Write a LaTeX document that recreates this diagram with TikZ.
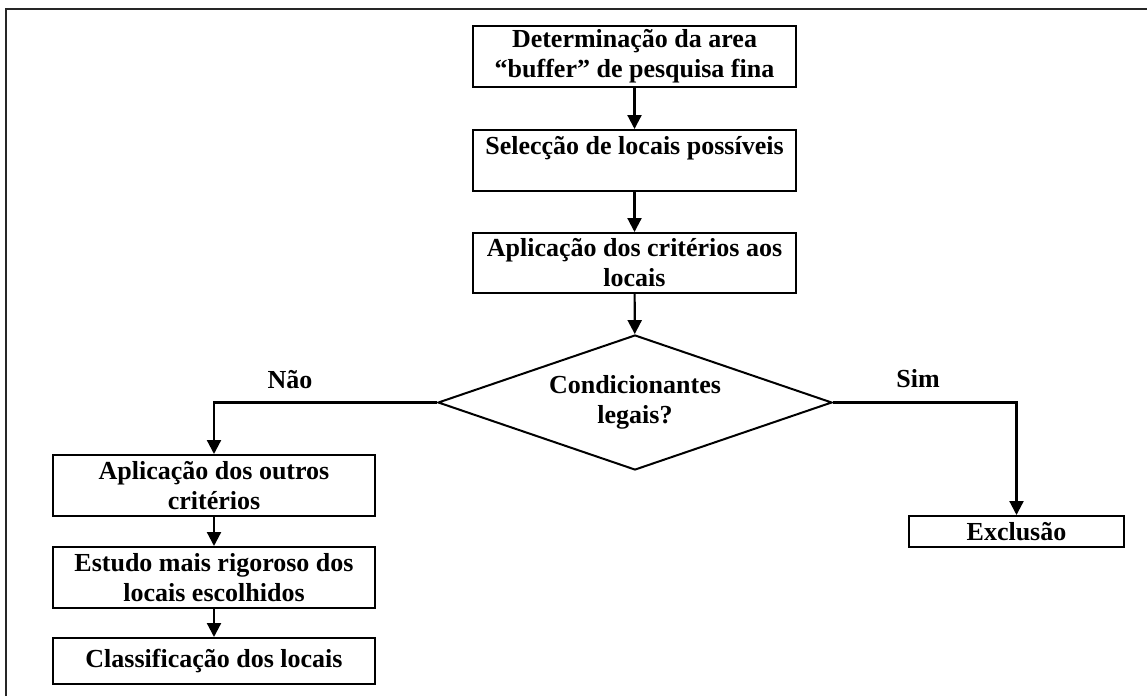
\documentclass[tikz,border=0pt]{standalone}
\usepackage{fontspec}
\setmainfont{Liberation Serif}
\usetikzlibrary{shapes.geometric,arrows.meta}
\begin{document}
\begin{tikzpicture}[x=1pt,y=-1pt,
  every node/.style={font=\fontsize{26}{30}\selectfont\bfseries},
  procbox/.style={draw,line width=2pt,inner sep=0pt,align=center,minimum width=#1},
  decision/.style={draw,diamond,aspect=2.92,line width=2pt,inner sep=0pt,align=center,minimum width=394pt,minimum height=135pt},
  flow/.style={line width=2.2pt,-{Triangle[length=14pt,width=14pt]}},
  lbl/.style={inner sep=0pt}]
\useasboundingbox (0,0) rectangle (1147,696);
% frame (top and left edges)
\coordinate (fA) at (6,696);
\coordinate (fB) at (6,9);
\coordinate (fC) at (1147,9);
\draw[line width=2.4pt,black!85] (fA) -- (fB) -- (fC);
% boxes
\node[procbox=323pt,minimum height=61pt] (b1) at (634.5,56.5) {Determinação da area\\“buffer” de pesquisa fina};
\node[procbox=323pt,minimum height=61pt] (b2) at (634.5,160.5) {Selecção de locais possíveis\\\mbox{}};
\node[procbox=323pt,minimum height=60pt] (b3) at (634.5,263) {Aplicação dos critérios aos\\locais};
\node[decision] (d) at (635,402.5) {Condicionantes\\legais?};
\node[procbox=322pt,minimum height=61pt] (b4) at (214,485.5) {Aplicação dos outros\\critérios};
\node[procbox=322pt,minimum height=61pt] (b5) at (214,577.5) {Estudo mais rigoroso dos\\locais escolhidos};
\node[procbox=322pt,minimum height=46pt] (b6) at (214,661) {Classificação dos locais};
\node[procbox=215pt,minimum height=31pt] (b7) at (1016.5,531.5) {Exclusão};
% labels
\node[lbl] (nao) at (290,380) {Não};
\node[lbl] (sim) at (918,379) {Sim};
% connectors
\draw[flow] (b1) -- (b2);
\draw[flow] (b2) -- (b3);
\draw[flow] (b3) -- (d);
\draw[flow] (d.west) -| (b4.north);
\draw[flow] (d.east) -| (b7.north);
\draw[flow] (b4) -- (b5);
\draw[flow] (b5) -- (b6);
\end{tikzpicture}
\end{document}
